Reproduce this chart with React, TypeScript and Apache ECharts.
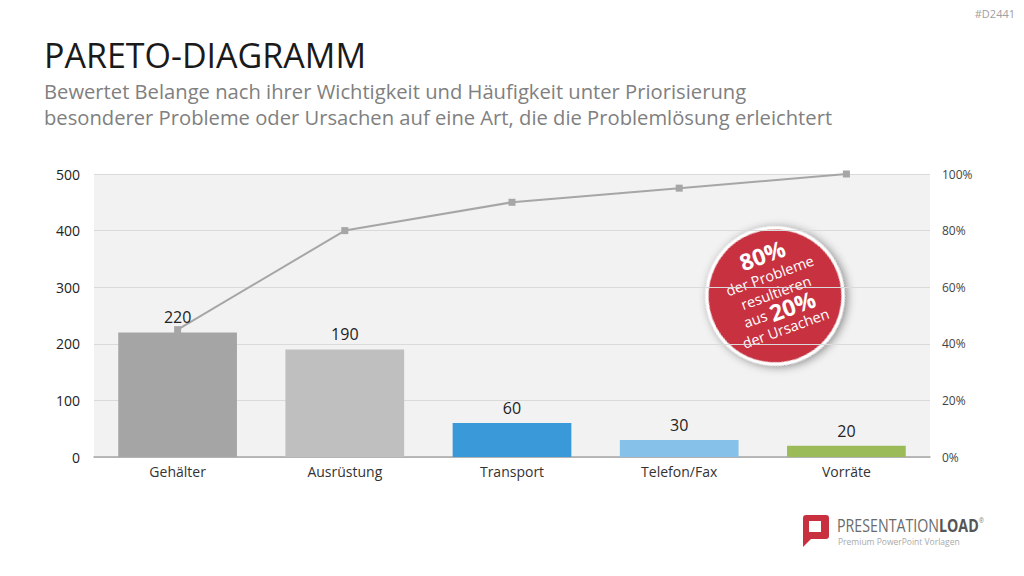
import React, { useEffect, useRef } from "react";
import * as echarts from "echarts";

const categories = ["Gehälter", "Ausrüstung", "Transport", "Telefon/Fax", "Vorräte"];
const counts = [220, 190, 60, 30, 20];
const cumulativePct = [45, 80, 90, 95, 100];
const barColors = ["#a5a5a5", "#bfbfbf", "#3a9ad9", "#85c1e9", "#9bbb59"];

const FONT = "'Liberation Sans Narrow', 'Open Sans', sans-serif";
const FONT2 = "'Open Sans', sans-serif";

echarts.graphic.registerShape(
  "plIcon",
  echarts.graphic.extendPath(
    "M3 0 L23 0 Q26 0 26 3 L26 21 Q26 24 23 24 L8 24 L0 32 L0 3 Q0 0 3 0 Z M6 6 L6 17 L18 17 L18 6 Z",
    {}
  )
);

export default function App() {
  const ref = useRef<HTMLDivElement>(null);
  useEffect(() => {
    const chart = echarts.init(ref.current!, null, { renderer: "svg" });
    const rot = (20 * Math.PI) / 180;
    chart.setOption({
      animation: false,
      grid: {
        left: 94,
        right: 94,
        top: 174,
        bottom: 119,
        show: true,
        backgroundColor: "#f2f2f2",
        borderWidth: 0,
      },
      xAxis: {
        type: "category",
        data: categories,
        axisTick: { show: false },
        axisLine: { lineStyle: { color: "#a6a6a6", width: 1.5 } },
        axisLabel: { color: "#333", fontSize: 14, fontFamily: FONT2, margin: 7 },
      },
      yAxis: [
        {
          type: "value",
          min: 0,
          max: 500,
          interval: 100,
          axisLabel: { color: "#222", fontSize: 14, fontFamily: FONT2, margin: 14 },
          splitLine: { lineStyle: { color: "#dadada" } },
        },
        {
          type: "value",
          min: 0,
          max: 100,
          interval: 20,
          axisLabel: { color: "#444", fontSize: 12, fontFamily: FONT2, margin: 12, formatter: "{value}%" },
          splitLine: { show: false },
        },
      ],
      series: [
        {
          type: "bar",
          data: counts.map((v, i) => ({ value: v, itemStyle: { color: barColors[i] } })),
          barWidth: "71%",
          label: { show: true, position: "top", color: "#222", fontSize: 16, fontFamily: FONT2, distance: 7 },
          z: 2,
        },
        {
          type: "line",
          yAxisIndex: 1,
          data: cumulativePct,
          symbol: "rect",
          symbolSize: 7,
          lineStyle: { color: "#a6a6a6", width: 2 },
          itemStyle: { color: "#a6a6a6" },
          z: 1,
        },
      ],
      graphic: [
        {
          type: "text",
          left: 44,
          top: 38,
          style: { text: "PARETO-DIAGRAMM", fill: "#1a1a1a", font: `34px ${FONT}` },
        },
        {
          type: "text",
          left: 44,
          top: 78,
          style: {
            text:
              "Bewertet Belange nach ihrer Wichtigkeit und Häufigkeit unter Priorisierung\nbesonderer Probleme oder Ursachen auf eine Art, die die Problemlösung erleichtert",
            fill: "#808080",
            font: `20.2px ${FONT}`,
            lineHeight: 26,
          },
        },
        {
          type: "text",
          right: 9,
          top: 8,
          style: { text: "#D2441", fill: "#a0a0a0", font: `11px ${FONT2}` },
        },
        {
          type: "group",
          x: 775,
          y: 296,
          rotation: rot,
          children: [
            {
              type: "circle",
              shape: { cx: 0, cy: 0, r: 68 },
              style: {
                fill: "#c8303f",
                stroke: "#ffffff",
                lineWidth: 3,
                shadowBlur: 10,
                shadowColor: "rgba(0,0,0,0.45)",
                shadowOffsetX: 2,
                shadowOffsetY: 2,
              },
            },
            {
              type: "text",
              x: 2,
              y: -43,
              style: { text: "80%", fill: "#fff", font: `bold 23px ${FONT2}`, align: "center", verticalAlign: "middle" },
            },
            {
              type: "text",
              x: 2,
              y: -21,
              style: { text: "der Probleme", fill: "#fff", font: `14.5px ${FONT2}`, align: "center", verticalAlign: "middle" },
            },
            {
              type: "text",
              x: 2,
              y: -3,
              style: { text: "resultieren", fill: "#fff", font: `14.5px ${FONT2}`, align: "center", verticalAlign: "middle" },
            },
            {
              type: "text",
              x: -1,
              y: 15,
              style: {
                text: "{a|aus }{b|20%}",
                align: "center",
                verticalAlign: "middle",
                rich: {
                  a: { fill: "#fff", fontSize: 14.5, fontFamily: FONT2 },
                  b: { fill: "#fff", fontSize: 23, fontWeight: "bold", fontFamily: FONT2 },
                },
              },
            },
            {
              type: "text",
              x: -1,
              y: 34,
              style: { text: "der Ursachen", fill: "#fff", font: `14.5px ${FONT2}`, align: "center", verticalAlign: "middle" },
            },
          ],
        },
        {
          type: "plIcon",
          x: 803,
          y: 515,
          style: { fill: "#c8303f" },
        },
        {
          type: "text",
          x: 837,
          y: 525,
          scaleX: 0.79,
          style: {
            text: "{a|PRESENTATION}{b|LOAD}{c|®}",
            verticalAlign: "middle",
            rich: {
              a: { fill: "#6b6b6b", fontSize: 18, fontFamily: FONT },
              b: { fill: "#555", fontSize: 18, fontWeight: "bold", fontFamily: FONT },
              c: { fill: "#888", fontSize: 8, fontFamily: FONT, verticalAlign: "top" },
            },
          },
        },
        {
          type: "text",
          x: 838,
          y: 541,
          style: { text: "Premium PowerPoint Vorlagen", fill: "#aaa", font: `8.5px ${FONT2}`, verticalAlign: "middle" },
        },
      ],
    });
    return () => chart.dispose();
  }, []);
  return <div ref={ref} style={{ position: "fixed", left: 0, top: 0, width: 1024, height: 576, background: "#fff" }} />;
}
